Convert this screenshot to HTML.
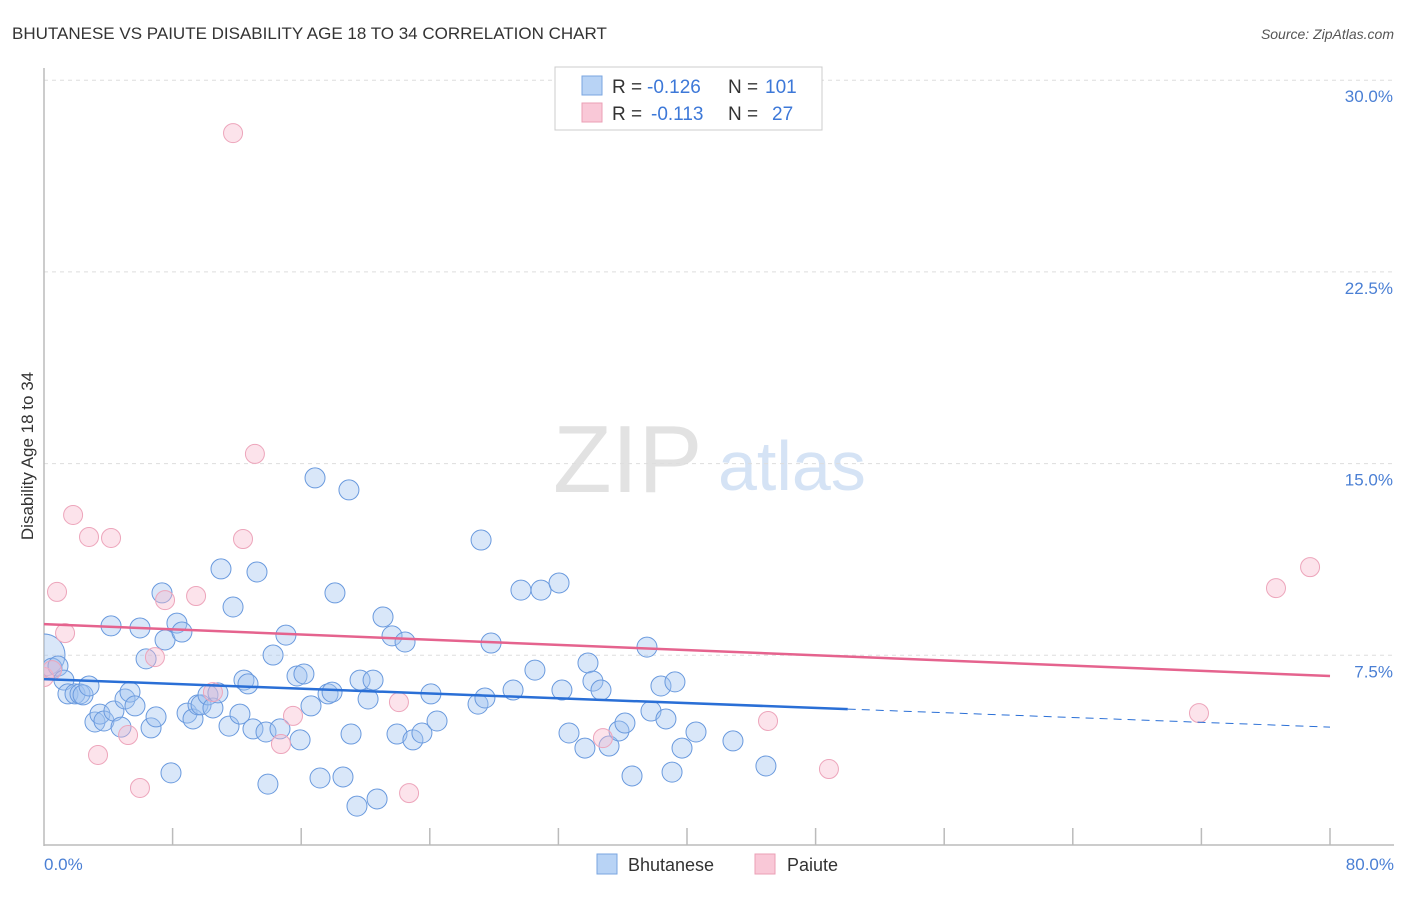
<!DOCTYPE html>
<html><head><meta charset="utf-8"><style>
body{margin:0;background:#fff;font-family:"Liberation Sans",sans-serif}
svg text{font-family:"Liberation Sans",sans-serif}
</style></head><body>
<svg id="chart" width="1406" height="892" viewBox="0 0 1406 892" xmlns="http://www.w3.org/2000/svg">
<defs><clipPath id="plotclip"><rect x="44" y="60" width="1360" height="785"/></clipPath></defs>
<text x="12" y="39" font-size="17" fill="#333">BHUTANESE VS PAIUTE DISABILITY AGE 18 TO 34 CORRELATION CHART</text>
<text x="1394" y="39" font-size="14" fill="#555" font-style="italic" text-anchor="end">Source: ZipAtlas.com</text>
<g>
<text x="553" y="492" font-size="96" fill="#e2e2e2" font-family="Liberation Serif,serif">ZIP</text>
<text x="718" y="490" font-size="70" fill="#d5e3f5">atlas</text>
</g>
<g id="grid"></g>
<line x1="44" y1="68" x2="44" y2="846" stroke="#bbb" stroke-width="1.5"/>
<line x1="44" y1="845" x2="1394" y2="845" stroke="#bbb" stroke-width="1.5"/>
<g id="xticks"></g>
<g id="yticks"></g>
<text x="44" y="870" font-size="17" fill="#4a7fd4">0.0%</text>
<text x="1394" y="870" font-size="17" fill="#4a7fd4" text-anchor="end">80.0%</text>
<text transform="translate(33,456) rotate(-90)" font-size="17" fill="#333" text-anchor="middle">Disability Age 18 to 34</text>
<g id="points" clip-path="url(#plotclip)"></g>
<g id="trends"></g>
<g>
<rect x="555" y="67" width="267" height="63" fill="#fff" stroke="#ccc"/>
<rect x="582" y="76" width="20" height="19" fill="#b8d3f5" stroke="#7aa6e0"/>
<rect x="582" y="103" width="20" height="19" fill="#f9c8d7" stroke="#eb9fb6"/>
<text x="612" y="93" font-size="19" fill="#333">R =</text>
<text x="647" y="93" font-size="19" fill="#3d78d8">-0.126</text>
<text x="728" y="93" font-size="19" fill="#333">N =</text>
<text x="765" y="93" font-size="19" fill="#3d78d8">101</text>
<text x="612" y="120" font-size="19" fill="#333">R =</text>
<text x="651" y="120" font-size="19" fill="#3d78d8">-0.113</text>
<text x="728" y="120" font-size="19" fill="#333">N =</text>
<text x="772" y="120" font-size="19" fill="#3d78d8">27</text>
</g>
<g>
<rect x="597" y="854" width="20" height="20" fill="#b8d3f5" stroke="#7aa6e0"/>
<text x="628" y="871" font-size="18" fill="#333">Bhutanese</text>
<rect x="755" y="854" width="20" height="20" fill="#f9c8d7" stroke="#eb9fb6"/>
<text x="787" y="871" font-size="18" fill="#333">Paiute</text>
</g>
</svg>
<script>
const yTicks=[7.5,15,22.5,30];
const yTickLabels=["7.5%","15.0%","22.5%","30.0%"];
const xTickVals=[8,16,24,32,40,48,56,64,72,80];
const bhutaneseX=[0,0.5,0.87,1.24,1.49,1.93,2.24,2.43,2.8,3.17,3.48,3.73,4.17,4.35,4.79,5.04,5.35,5.66,5.97,6.35,6.66,6.97,7.34,7.53,7.9,8.27,8.58,8.9,9.27,9.58,9.77,10.2,10.51,10.82,11.01,11.51,11.76,12.19,12.44,12.69,13.25,13.0,13.81,13.93,14.25,14.68,15.05,15.74,15.93,16.17,16.61,16.86,17.17,17.67,17.92,18.1,18.6,18.97,19.1,19.47,19.66,20.16,20.47,20.72,21.09,21.65,21.96,22.46,22.95,23.51,24.07,24.45,27.0,27.19,27.43,27.81,29.18,29.67,30.54,30.92,32.04,32.22,32.66,33.65,33.84,34.15,34.65,35.15,35.77,36.14,36.58,37.51,37.76,38.38,38.69,39.07,39.25,39.69,40.56,42.86,44.91];
const bhutaneseY=[7.51,7.0,7.08,6.53,5.99,5.99,5.99,5.95,6.3,4.89,5.2,4.93,8.65,5.32,4.69,5.79,6.06,5.52,8.57,7.36,4.66,5.09,9.94,8.1,2.9,8.76,8.41,5.24,5.01,5.56,5.56,5.95,5.44,6.03,10.88,4.73,9.39,5.2,6.53,6.38,10.76,4.62,4.5,2.46,7.51,4.62,8.29,6.69,4.19,6.77,5.52,14.44,2.7,5.99,6.06,9.94,2.74,13.97,4.42,1.6,6.53,5.79,6.53,1.88,9.0,8.26,4.42,8.02,4.19,4.46,5.99,4.93,5.59,12.01,5.83,7.98,6.14,10.05,6.92,10.05,10.33,6.14,4.46,3.87,7.2,6.49,6.14,3.95,4.54,4.85,2.78,7.82,5.32,6.3,5.01,2.93,6.46,3.87,4.5,4.15,3.17];
const paiuteX=[0,0.5,0.81,1.31,1.81,2.8,3.36,4.17,5.23,5.97,6.9,7.53,9.46,10.51,11.76,12.38,13.12,14.74,15.49,22.08,22.71,34.77,45.04,48.83,71.85,76.64,78.76];
const paiuteY=[6.65,6.92,9.98,8.37,12.99,12.13,3.6,12.09,4.38,2.31,7.43,9.66,9.82,6.06,27.93,12.05,15.38,4.03,5.13,5.67,2.11,4.26,4.93,3.05,5.24,10.13,10.95];
const blueTrend=[6.57,4.69];
const blueSolidEnd=50;
const pinkTrend=[8.72,6.69];
const NS="http://www.w3.org/2000/svg";
function sx(v){return 44+v*1286/80;}
function sy(v){return 847-v*191.7/7.5;}
function mk(tag,attrs,parent){const e=document.createElementNS(NS,tag);for(const k in attrs)e.setAttribute(k,attrs[k]);parent.appendChild(e);return e;}
const grid=document.getElementById('grid'),yt=document.getElementById('yticks'),xt=document.getElementById('xticks');
yTicks.forEach((v,i)=>{
 const l=mk('line',{x1:44,x2:1394,y1:sy(v),y2:sy(v),stroke:'#ddd','stroke-dasharray':'4,4'},grid);
 
 
 const t=mk('text',{x:1393,y:sy(v)+22,'font-size':17,fill:'#4a7fd4','text-anchor':'end'},yt);
 t.textContent=yTickLabels[i];
 
 
});
xTickVals.forEach(v=>{
 const l=mk('line',{x1:sx(v),x2:sx(v),y1:828,y2:845,stroke:'#bbb','stroke-width':1.5},xt);
 
 
});
const pts=document.getElementById('points');
bhutaneseX.forEach((x,i)=>{
 const c=mk('circle',{cx:sx(x),cy:sy(bhutaneseY[i]),r:i===0?21:10,fill:'rgba(160,196,240,0.4)',stroke:'#6a9ade','stroke-width':1},pts);
 
 
});
paiuteX.forEach((x,i)=>{
 const c=mk('circle',{cx:sx(x),cy:sy(paiuteY[i]),r:9.5,fill:'rgba(248,185,205,0.4)',stroke:'#eda5bb','stroke-width':1},pts);
 
 
});
const tr=document.getElementById('trends');
function ty(t,x){return t[0]+(t[1]-t[0])*x/80;}
let l1=mk('line',{x1:sx(0),y1:sy(ty(blueTrend,0)),x2:sx(blueSolidEnd),y2:sy(ty(blueTrend,blueSolidEnd)),stroke:'#2a6fd6','stroke-width':2.5},tr);


let l2=mk('line',{x1:sx(blueSolidEnd),y1:sy(ty(blueTrend,blueSolidEnd)),x2:sx(80),y2:sy(ty(blueTrend,80)),stroke:'#2a6fd6','stroke-width':1,'stroke-dasharray':'8,6'},tr);


let l3=mk('line',{x1:sx(0),y1:sy(pinkTrend[0]),x2:sx(80),y2:sy(pinkTrend[1]),stroke:'#e5638e','stroke-width':2.5},tr);


</script>
</body></html>
